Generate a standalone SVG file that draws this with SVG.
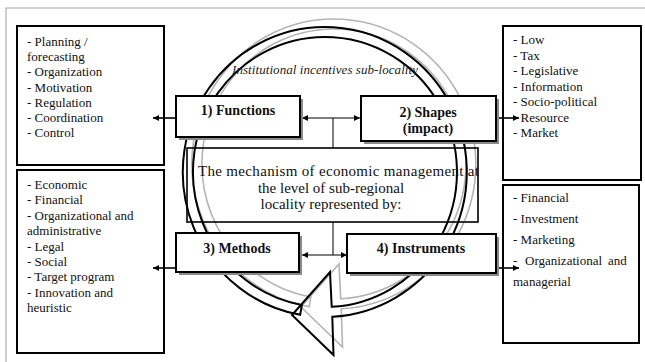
<svg xmlns="http://www.w3.org/2000/svg" width="645" height="362" viewBox="0 0 645 362" font-family="'Liberation Serif', 'DejaVu Serif', serif">
<defs>
<style>
text{font-family:'Liberation Serif','DejaVu Serif',serif}
.frame{fill:none;stroke:#a0a0a0;stroke-width:1}
.list{fill:#fff;stroke:#000;stroke-width:2}
.lt{font-size:13px;fill:#111}
.node{fill:#fff;stroke:#000;stroke-width:2}
.shadow{fill:#8a8a8a}
.bl{font-size:14px;font-weight:bold;fill:#111;text-anchor:middle}
.ct{font-size:15px;fill:#111}
.it{font-size:13px;font-style:italic;fill:#222}
.conn{fill:none;stroke:#000;stroke-width:1}
.conn2{fill:none;stroke:#000;stroke-width:1.6}
</style>
<marker id="ah" viewBox="0 0 10 10" refX="10" refY="5" markerWidth="7" markerHeight="6" markerUnits="userSpaceOnUse" orient="auto-start-reverse">
<path d="M0,0 L10,5 L0,10 Z" fill="#000"/>
</marker>
<path id="carrow" d="M300.15,314.8 A142,145 0 1 1 332.3,316.8 L333.5,355 L292,315 L330,272 L331.7,306.8 A132,135 0 1 0 301.9,304.9 Z"/>
</defs>

<rect class="frame" x="6" y="8" width="700" height="400"/>

<g id="list-functions">
<rect class="list" x="17" y="26" width="147" height="139"/>
<text class="lt">
<tspan x="27" y="46">- Planning /</tspan>
<tspan x="27" y="61.2">forecasting</tspan>
<tspan x="27" y="76.4">- Organization</tspan>
<tspan x="27" y="91.6">- Motivation</tspan>
<tspan x="27" y="106.8">- Regulation</tspan>
<tspan x="27" y="122">- Coordination</tspan>
<tspan x="27" y="137.2">- Control</tspan>
</text>
</g>

<g id="list-methods">
<rect class="list" x="17" y="170" width="147" height="183"/>
<text class="lt">
<tspan x="27" y="189">- Economic</tspan>
<tspan x="27" y="204.4">- Financial</tspan>
<tspan x="27" y="219.8">- Organizational and</tspan>
<tspan x="27" y="235.2">administrative</tspan>
<tspan x="27" y="250.6">- Legal</tspan>
<tspan x="27" y="266">- Social</tspan>
<tspan x="27" y="281.4">- Target program</tspan>
<tspan x="27" y="296.8">- Innovation and</tspan>
<tspan x="27" y="312.2">heuristic</tspan>
</text>
</g>

<g id="list-shapes">
<rect class="list" x="503" y="26" width="138" height="154"/>
<text class="lt">
<tspan x="513" y="44">- Low</tspan>
<tspan x="513" y="59.5">- Tax</tspan>
<tspan x="513" y="75">- Legislative</tspan>
<tspan x="513" y="90.5">- Information</tspan>
<tspan x="513" y="106">- Socio-political</tspan>
<tspan x="513" y="121.5">- Resource</tspan>
<tspan x="513" y="137">- Market</tspan>
</text>
</g>

<g id="list-instruments">
<rect class="list" x="503" y="185" width="136" height="158"/>
<text class="lt">
<tspan x="513" y="202">- Financial</tspan>
<tspan x="513" y="223">- Investment</tspan>
<tspan x="513" y="244">- Marketing</tspan>
<tspan x="513" y="265">-</tspan><tspan x="525" y="265">Organizational</tspan><tspan x="608" y="265">and</tspan>
<tspan x="513" y="286">managerial</tspan>
</text>
</g>

<g id="circular-arrow">
<use href="#carrow" transform="translate(9,-8)" fill="none" stroke="#b4b4b4" stroke-width="1.6"/>
<use href="#carrow" fill="none" stroke="#000" stroke-width="2"/>
</g>

<g id="mechanism">
<rect x="187" y="148" width="291" height="74" fill="none" stroke="#000" stroke-width="1.6"/>
<text class="ct" x="198" y="176" textLength="281" lengthAdjust="spacing">The mechanism of economic management at</text>
<text class="ct" x="331" y="192.5" text-anchor="middle">the level of sub-regional</text>
<text class="ct" x="331" y="208.5" text-anchor="middle">locality represented by:</text>
</g>

<g id="incentives-label">
<text class="it" x="232" y="74" textLength="186" lengthAdjust="spacing">Institutional incentives sub-locality</text>
</g>

<g id="connectors">
<line class="conn2" x1="176" y1="118" x2="153" y2="118" marker-end="url(#ah)"/>
<line class="conn2" x1="496" y1="118" x2="519" y2="118" marker-end="url(#ah)"/>
<line class="conn2" x1="176" y1="268" x2="153" y2="268" marker-end="url(#ah)"/>
<line class="conn2" x1="496" y1="268" x2="519" y2="268" marker-end="url(#ah)"/>
<line class="conn" x1="302" y1="118" x2="360" y2="118" marker-start="url(#ah)" marker-end="url(#ah)"/>
<line class="conn" x1="333" y1="118" x2="333" y2="148"/>
<line class="conn" x1="302" y1="255" x2="347" y2="255" marker-start="url(#ah)" marker-end="url(#ah)"/>
<line class="conn" x1="333" y1="222" x2="333" y2="255"/>
</g>

<g id="functions">
<rect class="shadow" x="179" y="99" width="124" height="41"/>
<rect class="node" x="176" y="96" width="124" height="41"/>
<text class="bl" x="238" y="115">1)  Functions</text>
</g>

<g id="shapes">
<rect class="shadow" x="364" y="99" width="135" height="45"/>
<rect class="node" x="361" y="96" width="135" height="45"/>
<text class="bl" x="428" y="117">2) Shapes</text>
<text class="bl" x="428" y="133">(impact)</text>
</g>

<g id="methods">
<rect class="shadow" x="179" y="236" width="123" height="39"/>
<rect class="node" x="176" y="233" width="123" height="39"/>
<text class="bl" x="237" y="253">3) Methods</text>
</g>

<g id="instruments">
<rect class="shadow" x="350" y="237" width="149" height="39"/>
<rect class="node" x="347" y="234" width="149" height="39"/>
<text class="bl" x="421" y="253">4) Instruments</text>
</g>
</svg>
